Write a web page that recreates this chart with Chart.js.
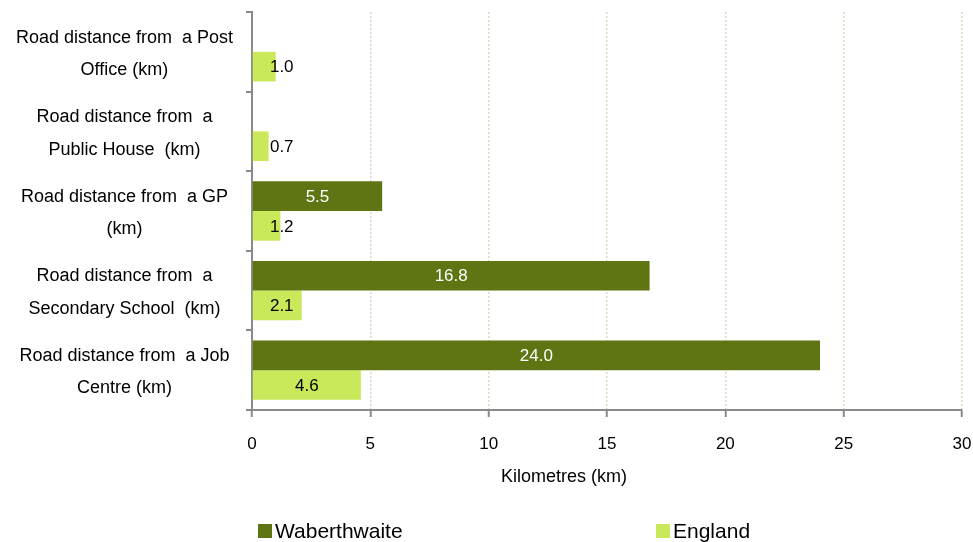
<!DOCTYPE html>
<html>
<head>
<meta charset="utf-8">
<script src="https://cdn.jsdelivr.net/npm/chart.js@4/dist/chart.umd.min.js"></script>
<style>
  html, body { margin: 0; padding: 0; background: #fff; }
  #wrap { width: 973px; height: 542px; overflow: hidden; }
</style>
</head>
<body>
<div id="wrap"><canvas id="distanceChart" width="973" height="542"></canvas></div>
<script>
const categories = [
  ["Road distance from  a Post", "Office (km)"],
  ["Road distance from  a", "Public House  (km)"],
  ["Road distance from  a GP", "(km)"],
  ["Road distance from  a", "Secondary School  (km)"],
  ["Road distance from  a Job", "Centre (km)"],
];
const seriesNames = ["Waberthwaite", "England"];
const waberthwaite = [null, null, 5.5, 16.8, 24.0];
const england = [1.0, 0.7, 1.2, 2.1, 4.6];
const xTicks = [0, 5, 10, 15, 20, 25, 30];
const xTitle = "Kilometres (km)";

const dark = "#5f7413";
const light = "#c9e95a";
const axisGrey = "#8a8a8a";
const gridDot = "#dcd7bd";
const fontFamily = "'Liberation Sans', Arial, sans-serif";

// value labels on bars
const valueLabels = {
  id: "valueLabels",
  afterDatasetsDraw(chart) {
    const ctx = chart.ctx;
    ctx.save();
    ctx.font = "17px " + fontFamily;
    ctx.textAlign = "center";
    ctx.textBaseline = "middle";
    chart.data.datasets.forEach((ds, i) => {
      chart.getDatasetMeta(i).data.forEach((bar, j) => {
        const v = ds.data[j];
        if (v == null) return;
        const p = bar.getProps(["x", "y", "base"], true);
        let x = (p.x + p.base) / 2;
        if (i === 1) x = Math.max(x, p.base + 29);
        ctx.fillStyle = i === 0 ? "#ffffff" : "#000000";
        ctx.fillText(v.toFixed(1), x, p.y + 1);
      });
    });
    ctx.restore();
  },
};

// axis title (sits left of centre, as in the source) and legend along the bottom
const bottomText = {
  id: "bottomText",
  afterDraw(chart) {
    const ctx = chart.ctx;
    const { left, bottom } = chart.chartArea;
    ctx.save();
    ctx.fillStyle = "#000";
    ctx.textBaseline = "middle";
    ctx.textAlign = "center";
    ctx.font = "18px " + fontFamily;
    ctx.fillText(xTitle, left + 312, bottom + 67);

    const offsets = [6, 404];
    const y = 531;
    ctx.font = "21px " + fontFamily;
    ctx.textAlign = "left";
    chart.data.datasets.forEach((ds, i) => {
      const x = left + offsets[i];
      ctx.fillStyle = ds.backgroundColor;
      ctx.fillRect(x, y - 7, 14, 14);
      ctx.fillStyle = "#000";
      ctx.fillText(ds.label, x + 17, y + 1);
    });
    ctx.restore();
  },
};

const noEdgePadding = (scale) => {
  scale.paddingTop = 0;
  scale.paddingBottom = 0;
  scale.paddingLeft = 0;
  scale.paddingRight = 0;
};

new Chart(document.getElementById("distanceChart").getContext("2d"), {
  type: "bar",
  data: {
    labels: categories,
    datasets: [
      { label: seriesNames[0], data: waberthwaite, backgroundColor: dark },
      { label: seriesNames[1], data: england, backgroundColor: light },
    ],
  },
  options: {
    indexAxis: "y",
    responsive: false,
    animation: false,
    datasets: { bar: { categoryPercentage: 0.745, barPercentage: 1.0 } },
    layout: { padding: { top: 12, right: 11, bottom: 47, left: 0 } },
    plugins: { legend: { display: false }, tooltip: { enabled: false } },
    scales: {
      x: {
        min: xTicks[0],
        max: xTicks[xTicks.length - 1],
        ticks: {
          stepSize: xTicks[1] - xTicks[0],
          color: "#000",
          padding: 17,
          font: { family: fontFamily, size: 17 },
        },
        grid: {
          color: (c) => (c.tick && c.tick.value === 0 ? "rgba(0,0,0,0)" : gridDot),
          lineWidth: 1.5,
          tickColor: axisGrey,
          tickLength: 7,
          tickWidth: 2,
        },
        border: { color: axisGrey, width: 2, dash: [2, 2] },
        afterFit(scale) { scale.height = 85; noEdgePadding(scale); },
      },
      y: {
        ticks: {
          color: "#000",
          crossAlign: "center",
          padding: 13,
          labelOffset: 2,
          font: { family: fontFamily, size: 18, lineHeight: 1.8 },
        },
        grid: {
          drawOnChartArea: false,
          color: axisGrey,
          tickLength: 6,
          lineWidth: 2,
        },
        border: { color: axisGrey, width: 2 },
        afterFit(scale) { scale.width = 252; noEdgePadding(scale); },
      },
    },
  },
  plugins: [valueLabels, bottomText],
});
</script>
</body>
</html>
